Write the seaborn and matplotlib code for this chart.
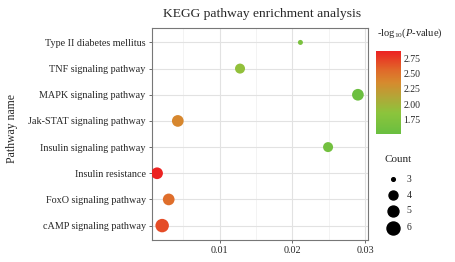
import numpy as np
import pandas as pd
import matplotlib
matplotlib.use('Agg')
import matplotlib.pyplot as plt
from matplotlib.colors import LinearSegmentedColormap, Normalize
import seaborn as sns

# data, top to bottom
pathways = ['Type II diabetes mellitus', 'TNF signaling pathway', 'MAPK signaling pathway',
            'Jak-STAT signaling pathway', 'Insulin signaling pathway', 'Insulin resistance',
            'FoxO signaling pathway', 'cAMP signaling pathway']
pvalue = [0.0211, 0.0128, 0.0290, 0.00425, 0.0249, 0.0014, 0.0030, 0.0021]
count = [3, 4, 5, 5, 4, 5, 5, 6]
size_levels = [3, 4, 5, 6]
cbar_ticks = [1.75, 2.00, 2.25, 2.50, 2.75]

df = pd.DataFrame({'Pathway': pathways, 'P': pvalue, 'Count': count})
df['logP'] = -np.log10(df['P'])

sns.set_style('whitegrid')
plt.rcParams['font.family'] = ['Liberation Serif', 'DejaVu Serif']
plt.rcParams['mathtext.fontset'] = 'custom'
plt.rcParams['mathtext.rm'] = 'Liberation Serif'
plt.rcParams['mathtext.it'] = 'Liberation Serif:italic'

cmap = LinearSegmentedColormap.from_list('gr', [(0.0, '#6abf40'), (0.25, '#8cc43c'),
                                                (0.43, '#b0a838'), (0.62, '#d68a2e'),
                                                (0.77, '#e0692a'), (1.0, '#ec2222')])
norm = Normalize(vmin=df['logP'].min() - 0.02, vmax=df['logP'].max() + 0.01)
sizes = {3: 13, 4: 52, 5: 71, 6: 94}

fig = plt.figure(figsize=(4.55, 2.62), dpi=100)
ax = fig.add_axes([0.334, 0.084, 0.475, 0.809])

sns.scatterplot(data=df, x='P', y='Pathway', hue='logP', palette=cmap, hue_norm=norm,
                size='Count', sizes=sizes, legend=False, linewidth=0, ax=ax, zorder=3)

ax.set_ylim(7.55, -0.55)
ax.set_xlim(0.0007, 0.0304)
ax.set_xticks([0.01, 0.02, 0.03])
ax.set_xticklabels(['0.01', '0.02', '0.03'])
ax.set_xticks([0.005, 0.015, 0.025], minor=True)
ax.grid(True, which='major', color='#e2e2e2', lw=0.8)
ax.grid(True, which='minor', axis='x', color='#efefef', lw=0.5)
ax.tick_params(axis='both', which='major', labelsize=7.3, length=2.5, width=0.6,
               color='#555555', pad=2, bottom=True, left=True)
ax.tick_params(axis='x', which='minor', length=0)
for s in ax.spines.values():
    s.set_color('#777777')
    s.set_linewidth(0.8)
ax.set_xlabel('')
ax.set_ylabel('')
fig.text(0.026, 0.51, 'Pathway name', rotation=90, ha='center', va='center', fontsize=8.5)
fig.text(0.575, 0.945, 'KEGG pathway enrichment analysis', ha='center', va='center', fontsize=9.7)

# colour bar
cax = fig.add_axes([0.826, 0.49, 0.055, 0.315])
cb = matplotlib.colorbar.ColorbarBase(cax, cmap=cmap, norm=norm)
cb.outline.set_visible(False)
cb.set_ticks(cbar_ticks)
cb.set_ticklabels(['%.2f' % t for t in cbar_ticks])
cax.tick_params(labelsize=7, length=2.5, direction='in', color='white', pad=2)
fig.text(0.829, 0.872, r'-log$\mathregular{_{10}}$($\mathit{P}$-value)', fontsize=7.6,
         ha='left', va='center')

# size legend
fig.text(0.846, 0.39, 'Count', fontsize=8, ha='left', va='center')
ly = [0.315, 0.255, 0.195, 0.13]
leg_sizes = {3: 7, 4: 42, 5: 62, 6: 88}
for lev, y in zip(size_levels, ly):
    fig.add_artist(plt.Line2D([0.864], [y], marker='o', ls='', color='black',
                              markersize=np.sqrt(leg_sizes[lev]), transform=fig.transFigure))
    fig.text(0.893, y, str(lev), fontsize=7, ha='left', va='center')

fig.savefig('out.png', dpi=100)
